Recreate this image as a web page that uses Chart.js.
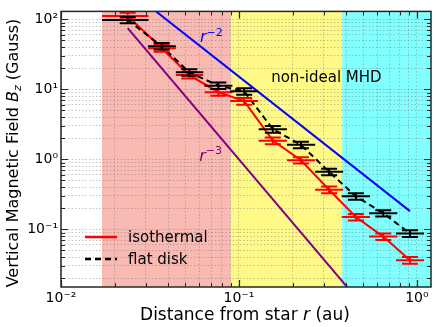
<!DOCTYPE html>
<html><head><meta charset="utf-8">
<script src="https://cdn.jsdelivr.net/npm/chart.js@4"></script>
<style>html,body{margin:0;padding:0;background:#fff}#wrap{width:436px;height:327px;position:relative}</style>
</head><body><div id="wrap"><canvas id="c" width="436" height="327"></canvas></div>
<script>
// ---------------- data ----------------
const radius      = [0.0237, 0.0368, 0.0526, 0.0766, 0.107, 0.155, 0.223, 0.321, 0.454, 0.647, 0.914];
const radiusLow   = [0.017, 0.0308, 0.0442, 0.064, 0.0893, 0.129, 0.186, 0.268, 0.378, 0.539, 0.762];
const radiusHigh  = [0.031, 0.0442, 0.063, 0.0919, 0.128, 0.186, 0.268, 0.385, 0.545, 0.776, 1.097];
const bIsothermal = [112, 38.8, 16.0, 9.1, 6.8, 1.85, 0.97, 0.368, 0.150, 0.0787, 0.0362];
const errIsothermal = [12, 4.2, 1.7, 1.0, 0.75, 0.2, 0.1, 0.04, 0.016, 0.0085, 0.004];
const bFlatDisk   = [98, 41.4, 17.5, 11.3, 9.4, 2.70, 1.61, 0.665, 0.296, 0.170, 0.0875];
const errFlatDisk = [10, 4.4, 1.9, 1.2, 1.0, 0.3, 0.17, 0.07, 0.032, 0.018, 0.0095];
const powerLawR   = [0.0237, 0.914];          // extent of the reference power laws
const coefRMinus2 = 0.152;                    // B = coef * r^-2
const coefRMinus3 = 0.001;                    // B = coef * r^-3
const regionEdges = [0.017, 0.09, 0.38, 1.2]; // salmon | yellow | cyan
const regionNames = ['inner', 'non-ideal MHD', 'outer'];
const xTickValues = [0.01, 0.1, 1];
const xTickLabels = ['10\u207B\u00B2', '10\u207B\u00B9', '10\u2070'];
const yTickValues = [0.1, 1, 10, 100];
const yTickLabels = ['10\u207B\u00B9', '10\u2070', '10\u00B9', '10\u00B2'];
const xRange = [0.01, 1.2];
const yRange = [0.015, 130];

// ---------------- styling ----------------
const FONT = 'DejaVu Sans';
const regionColors = ['rgb(250,186,180)', 'rgb(255,250,135)', 'rgb(130,255,255)'];
const frameColor = '#262626';

function pts(xs, ys) { return xs.map((x, i) => ({x: x, y: ys[i]})); }
const rMinus2 = pts(powerLawR, powerLawR.map(r => coefRMinus2 * Math.pow(r, -2)));
const rMinus3 = pts([powerLawR[0], 0.6], [powerLawR[0], 0.6].map(r => coefRMinus3 * Math.pow(r, -3)));

function logTicks(min, max) {
  const out = [];
  for (let e = Math.floor(Math.log10(min)); e <= Math.ceil(Math.log10(max)); e++) {
    for (let m = 1; m <= 9; m++) {
      const v = m * Math.pow(10, e);
      if (v >= min * 0.9999 && v <= max * 1.0001) out.push({value: v, major: m === 1});
    }
  }
  return out;
}
function labelFor(values, labels) {
  return (v) => {
    for (let i = 0; i < values.length; i++) if (Math.abs(v - values[i]) / values[i] < 1e-6) return labels[i];
    return '';
  };
}

// rich text (italic / superscript / subscript) drawn on canvas
function drawRich(ctx, segs, x, y, size, color, align, rotate) {
  ctx.save();
  ctx.translate(x, y);
  if (rotate) ctx.rotate(rotate);
  ctx.fillStyle = color;
  ctx.textBaseline = 'alphabetic';
  const fontOf = s => (s.italic ? 'italic ' : '') + Math.round((s.sup || s.sub) ? size * 0.7 : size) + 'px "' + FONT + '"';
  let total = 0;
  segs.forEach(s => { ctx.font = fontOf(s); s.w = ctx.measureText(s.t).width; total += s.w; });
  let cx = align === 'center' ? -total / 2 : 0;
  const base = size * 0.36;
  segs.forEach(s => {
    ctx.font = fontOf(s);
    let dy = base;
    if (s.sup) dy -= size * 0.42;
    if (s.sub) dy += size * 0.2;
    ctx.fillText(s.t, cx, dy);
    cx += s.w;
  });
  ctx.restore();
}

const bgPlugin = {
  id: 'regions',
  beforeDraw(chart) {
    const {ctx, chartArea: a, scales: {x}} = chart;
    ctx.save();
    for (let i = 0; i < regionColors.length; i++) {
      const x0 = Math.max(a.left, x.getPixelForValue(regionEdges[i]));
      const x1 = Math.min(a.right, x.getPixelForValue(regionEdges[i + 1]));
      ctx.fillStyle = regionColors[i];
      ctx.fillRect(x0, a.top, x1 - x0, a.bottom - a.top);
    }
    ctx.restore();
  }
};

const errPlugin = {
  id: 'errorbars',
  afterDatasetsDraw(chart) {
    const {ctx, chartArea: a, scales: {x, y}} = chart;
    ctx.save();
    ctx.beginPath(); ctx.rect(a.left, a.top, a.right - a.left, a.bottom - a.top); ctx.clip();
    chart.data.datasets.forEach(ds => {
      if (!ds.yErr) return;
      ctx.strokeStyle = ds.borderColor;
      ctx.lineWidth = 2;
      ctx.setLineDash([]);
      ds.data.forEach((p, i) => {
        const px = x.getPixelForValue(p.x), py = y.getPixelForValue(p.y);
        const xl = x.getPixelForValue(ds.xLow[i]), xh = x.getPixelForValue(ds.xHigh[i]);
        const yl = y.getPixelForValue(p.y - ds.yErr[i]), yh = y.getPixelForValue(p.y + ds.yErr[i]);
        ctx.beginPath();
        ctx.moveTo(xl, py); ctx.lineTo(xh, py);
        ctx.moveTo(px, yl); ctx.lineTo(px, yh);
        ctx.moveTo(px - 8, yl); ctx.lineTo(px + 8, yl);
        ctx.moveTo(px - 8, yh); ctx.lineTo(px + 8, yh);
        ctx.stroke();
      });
    });
    ctx.restore();
  }
};

const decorPlugin = {
  id: 'decor',
  afterDraw(chart) {
    const {ctx, chartArea: a, scales: {x, y}} = chart;
    ctx.save();
    // inward ticks on all four sides
    ctx.strokeStyle = frameColor;
    x.ticks.forEach(t => {
      const px = Math.round(x.getPixelForValue(t.value)) + 0.5;
      const L = t.major ? 7 : 4;
      ctx.lineWidth = t.major ? 1.2 : 1;
      ctx.beginPath();
      ctx.moveTo(px, a.bottom); ctx.lineTo(px, a.bottom - L);
      ctx.moveTo(px, a.top); ctx.lineTo(px, a.top + L);
      ctx.stroke();
    });
    y.ticks.forEach(t => {
      const py = Math.round(y.getPixelForValue(t.value)) + 0.5;
      const L = t.major ? 7 : 4;
      ctx.lineWidth = t.major ? 1.2 : 1;
      ctx.beginPath();
      ctx.moveTo(a.left, py); ctx.lineTo(a.left + L, py);
      ctx.moveTo(a.right, py); ctx.lineTo(a.right - L, py);
      ctx.stroke();
    });
    // frame
    ctx.lineWidth = 1.5;
    ctx.strokeRect(a.left, a.top, a.right - a.left, a.bottom - a.top);

    // annotations in data coordinates
    const tx = (v) => x.getPixelForValue(v), ty = (v) => y.getPixelForValue(v);
    drawRich(ctx, [{t: regionNames[1]}], tx(0.31), ty(15), 15, '#000', 'center');
    drawRich(ctx, [{t: 'r', italic: true}, {t: '\u22122', sup: true}], tx(0.0604), ty(57), 16, '#0000ff', 'left');
    drawRich(ctx, [{t: 'r', italic: true}, {t: '\u22123', sup: true}], tx(0.0598), ty(1.15), 16, '#800080', 'left');

    // legend (inside the axes, lower left)
    const lx = a.left + 24, ly1 = a.bottom - 50, ly2 = a.bottom - 28;
    const ds = chart.data.datasets;
    [[ds[0], ly1], [ds[1], ly2]].forEach(([d, ly]) => {
      ctx.strokeStyle = d.borderColor; ctx.lineWidth = 2.5;
      ctx.setLineDash(d.borderDash || []);
      ctx.beginPath(); ctx.moveTo(lx, ly); ctx.lineTo(lx + 32, ly); ctx.stroke();
      ctx.setLineDash([]);
      drawRich(ctx, [{t: d.label}], lx + 43, ly, 15, '#000', 'left');
    });

    // axis titles
    drawRich(ctx, [{t: 'Distance from star '}, {t: 'r', italic: true}, {t: ' (au)'}],
      245, 314, 16.5, '#000', 'center');
    drawRich(ctx, [{t: 'Vertical Magnetic Field '}, {t: 'B', italic: true}, {t: 'z', italic: true, sub: true}, {t: ' (Gauss)'}],
      12, 153, 16, '#000', 'center', -Math.PI / 2);
    ctx.restore();
  }
};

const gridOpts = {color: 'rgba(110,110,110,0.5)', lineWidth: 0.8, drawTicks: false};

new Chart(document.getElementById('c'), {
  type: 'scatter',
  data: {
    datasets: [
      {label: 'isothermal', data: pts(radius, bIsothermal), showLine: true, borderColor: '#ff0000', borderWidth: 2,
       pointRadius: 0, xLow: radiusLow, xHigh: radiusHigh, yErr: errIsothermal, order: 2},
      {label: 'flat disk', data: pts(radius, bFlatDisk), showLine: true, borderColor: '#000000', borderWidth: 2,
       borderDash: [6, 4], pointRadius: 0, xLow: radiusLow, xHigh: radiusHigh, yErr: errFlatDisk, order: 1},
      {label: 'r^-2', data: rMinus2, showLine: true, borderColor: '#0000ff', borderWidth: 2, pointRadius: 0, order: 3},
      {label: 'r^-3', data: rMinus3, showLine: true, borderColor: '#800080', borderWidth: 2, pointRadius: 0, order: 3}
    ]
  },
  options: {
    responsive: false, animation: false, devicePixelRatio: 1,
    layout: {padding: {top: 7, right: 5, left: 0, bottom: 0}},
    plugins: {legend: {display: false}, tooltip: {enabled: false}},
    scales: {
      x: {
        type: 'logarithmic', min: xRange[0], max: xRange[1],
        afterBuildTicks: s => { s.ticks = logTicks(xRange[0], xRange[1]); },
        afterFit: s => { s.height = 40; },
        ticks: {callback: labelFor(xTickValues, xTickLabels), autoSkip: false, maxRotation: 0, padding: 3,
                color: '#000', font: {family: FONT, size: 14}},
        grid: gridOpts, border: {display: false, dash: [1.5, 2]}
      },
      y: {
        type: 'logarithmic', min: yRange[0], max: yRange[1],
        afterBuildTicks: s => { s.ticks = logTicks(yRange[0], yRange[1]); },
        afterFit: s => { s.width = 61; },
        ticks: {callback: labelFor(yTickValues, yTickLabels), autoSkip: false, padding: 3,
                color: '#000', font: {family: FONT, size: 14}},
        grid: gridOpts, border: {display: false, dash: [1.5, 2]}
      }
    }
  },
  plugins: [bgPlugin, errPlugin, decorPlugin]
});
</script></body></html>
